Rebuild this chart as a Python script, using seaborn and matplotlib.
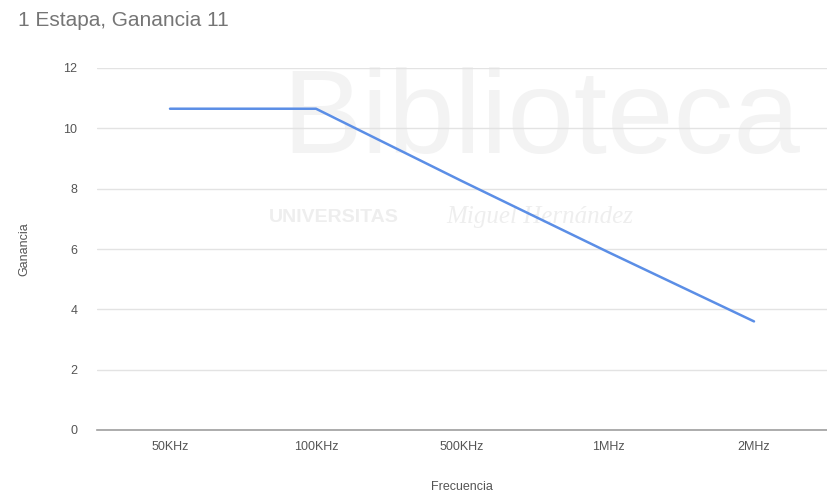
import matplotlib
matplotlib.use("Agg")
import matplotlib.pyplot as plt
import seaborn as sns
import pandas as pd

frecuencias = ["50KHz", "100KHz", "500KHz", "1MHz", "2MHz"]
ganancia = [10.65, 10.65, 8.25, 5.9, 3.6]
y_ticks = [0, 2, 4, 6, 8, 10, 12]

df = pd.DataFrame({"Frecuencia": frecuencias, "Ganancia": ganancia})

sns.set_theme(style="white")
plt.rcParams["font.family"] = ["Liberation Sans", "DejaVu Sans"]

fig = plt.figure(figsize=(8.27, 4.99), dpi=100)
ax = fig.add_axes([97/827, 69/499, 1 - 97/827, (430-68)/499])

# faint watermark (drawn behind the data)
ax.text(0.655, 0.755, "Biblioteca", fontsize=86, color="#f3f3f3", ha="center", va="center",
        transform=fig.transFigure, zorder=0.5)
ax.text(0.325, 0.565, "UNIVERSITAS", fontsize=14, color="#eeeeee", ha="left", va="center",
        fontweight="bold", transform=fig.transFigure, zorder=0.5)
ax.text(0.54, 0.565, "Miguel Hernández", fontsize=18, color="#eeeeee", ha="left", va="center",
        style="italic", family="Liberation Serif", transform=fig.transFigure, zorder=0.5)

x = list(range(len(frecuencias)))
sns.lineplot(x=x, y=df["Ganancia"], ax=ax, color="#5b8ee6", linewidth=1.8, zorder=3)

ax.set_xlim(-0.5, len(frecuencias) - 0.5)
ax.set_ylim(0, 12)
ax.set_yticks(y_ticks)
ax.set_xticks(x)
ax.set_xticklabels(frecuencias)
ax.yaxis.grid(True, color="#e3e3e3", linewidth=1, zorder=1)
ax.xaxis.grid(False)
ax.set_axisbelow(True)
for s in ["top", "right", "left"]:
    ax.spines[s].set_visible(False)
ax.spines["bottom"].set_color("#9e9e9e")
ax.spines["bottom"].set_linewidth(1.2)
ax.tick_params(axis="both", length=0, labelsize=9, labelcolor="#555555")
ax.tick_params(axis="y", pad=14)
ax.tick_params(axis="x", pad=8)
ax.set_xlabel("Frecuencia", fontsize=9, color="#555555", labelpad=20)
ax.set_ylabel("Ganancia", fontsize=9, color="#555555", labelpad=24)

fig.text(18/827, 1 - 20/499, "1 Estapa, Ganancia 11", fontsize=15, color="#757575", ha="left", va="center")

fig.savefig("out.png", dpi=100)
